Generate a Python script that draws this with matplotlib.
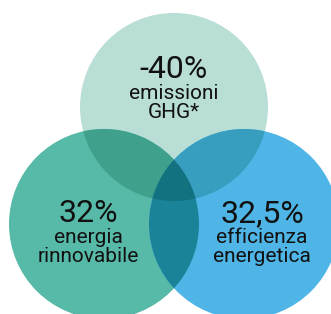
import numpy as np
import matplotlib
matplotlib.use("Agg")
import matplotlib.pyplot as plt
from matplotlib.patches import Circle, Polygon

# Data
values = ["-40%", "32%", "32,5%"]
labels = ["emissioni\nGHG*", "energia\nrinnovabile", "efficienza\nenergetica"]
colors = ["#b8ded5", "#57b9a8", "#4eb5e6"]

W, H = 331, 314
fig = plt.figure(figsize=(W / 100, H / 100), dpi=100)
ax = fig.add_axes([0, 0, 1, 1])
ax.set_xlim(0, W)
ax.set_ylim(H, 0)
ax.set_aspect("equal")
ax.axis("off")

centers = [(174, 107), (104, 224), (244, 224)]
radii = [94, 95, 95]


def rgb(c):
    return np.array(matplotlib.colors.to_rgb(c))


def mult(*cs):
    out = np.ones(3)
    for c in cs:
        out = out * rgb(c)
    return tuple(out)


circles = []
for (cx, cy), r, col in zip(centers, radii, colors):
    c = Circle((cx, cy), r, facecolor=col, edgecolor="none")
    ax.add_patch(c)
    circles.append(c)

# pairwise overlaps (multiply blend)
pairs = [(0, 1), (0, 2), (1, 2)]
for i, j in pairs:
    p = Circle(centers[j], radii[j], facecolor=mult(colors[i], colors[j]), edgecolor="none")
    ax.add_patch(p)
    p.set_clip_path(circles[i])

# triple overlap: lens of circle 1 & 2 clipped to circle 0
def lens(a, b, n=720):
    t = np.linspace(0, 2 * np.pi, n)
    pts = []
    for k, other in ((a, b), (b, a)):
        cx, cy = centers[k]
        r = radii[k]
        x = cx + r * np.cos(t)
        y = cy + r * np.sin(t)
        ox, oy = centers[other]
        m = (x - ox) ** 2 + (y - oy) ** 2 <= radii[other] ** 2
        pts.append(np.column_stack([x[m], y[m]]))
    pts = np.vstack(pts)
    c = pts.mean(axis=0)
    ang = np.arctan2(pts[:, 1] - c[1], pts[:, 0] - c[0])
    return pts[np.argsort(ang)]

tri = Polygon(lens(1, 2), closed=True, facecolor=mult(*colors), edgecolor="none")
ax.add_patch(tri)
tri.set_clip_path(circles[0])

font = "Roboto"
txt = "#111111"
text_pos = [(174, 78), (88, 222), (262, 222)]
for (x, y), v, lab in zip(text_pos, values, labels):
    ax.text(x, y, v, ha="center", va="baseline", fontsize=23, family=font, color=txt)
    l1, l2 = lab.split("\n")
    ax.text(x, y + 21, l1, ha="center", va="baseline", fontsize=15, family=font, color=txt)
    ax.text(x, y + 39.5, l2, ha="center", va="baseline", fontsize=15, family=font, color=txt)

fig.savefig("out.png", dpi=100, facecolor="white")
